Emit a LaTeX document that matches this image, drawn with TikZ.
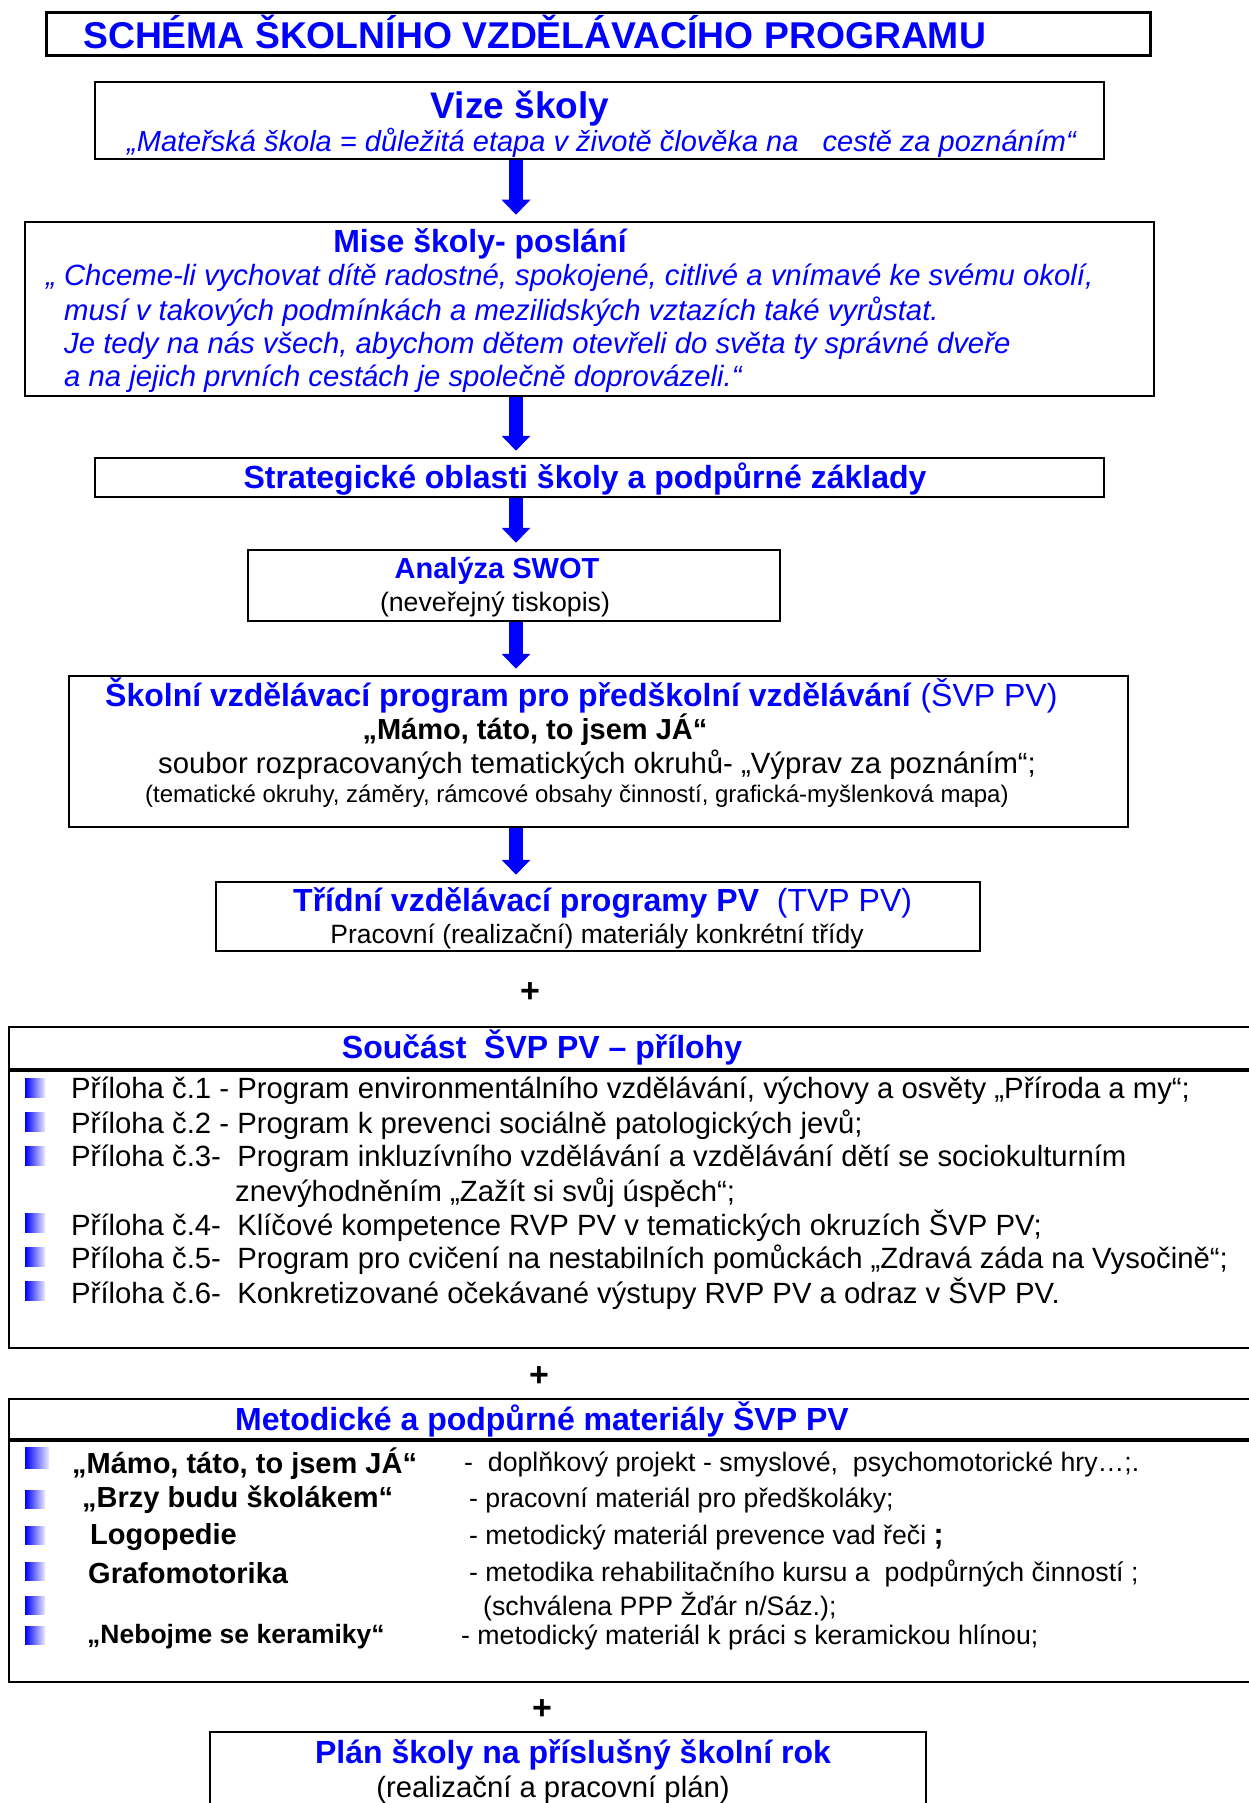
\documentclass[tikz,border=0pt]{standalone}
\usepackage{fontspec}
\setmainfont{Liberation Sans}
\usetikzlibrary{arrows.meta}
\newcommand{\pxfont}[1]{\fontsize{#1}{#1}\selectfont}
\tikzset{
    box/.style={draw, line width=2.5pt, inner sep=0pt},
    txt/.style={inner sep=0pt},
    head/.style={txt, text=svpblue, font=\bfseries\pxfont{32}},
    flowarrow/.style={draw=svpblue, line width=14pt, -{Triangle[width=28pt, length=15pt]}, shorten >=6pt},
    plus/.style={txt, font=\bfseries\pxfont{34}}
}
\begin{document}
\begin{tikzpicture}[x=1pt, y=-1pt]
        % --- CONFIGURATION ---
        \definecolor{svpblue}{RGB}{0, 0, 255}   % modrá nadpisů
        \useasboundingbox (0,0) rectangle (1248,1803);
        \coordinate (axis) at (516,0);

        % --- NADPIS ---
        \node[box, line width=3pt, minimum width=1104pt, minimum height=43pt] (title) at (598,34.5) {};
        \node[txt, anchor=west, text=svpblue, font=\bfseries\pxfont{37.3}] (titletxt) at (83,31.5) {SCHÉMA ŠKOLNÍHO VZDĚLÁVACÍHO PROGRAMU};

        % --- VIZE ---
        \node[box, minimum width=1009pt, minimum height=77pt] (vize) at (599.5,120.5) {};
        \node[head, font=\bfseries\pxfont{37}] (vizetxt) at (520,108.5) {Vize školy};
        \node[txt, anchor=west, text=svpblue, font=\itshape\pxfont{29}] (vizequote) at (127,143)
            {„Mateřská škola = důležitá etapa v životě člověka na \ \ cestě za poznáním“};

        % --- MISE ---
        \node[box, minimum width=1129pt, minimum height=174pt] (mise) at (589.5,309) {};
        \node[head] (misetxt) at (480,244) {Mise školy- poslání};
        \begin{scope}[every node/.style={txt, anchor=west, text=svpblue, font=\itshape\pxfont{29.3}}]
            \node (mise1) at (46,278) {„ Chceme-li vychovat dítě radostné, spokojené, citlivé a vnímavé ke svému okolí,};
            \node (mise2) at (64,312) {musí v takových podmínkách a mezilidských vztazích také vyrůstat.};
            \node (mise3) at (64,346) {Je tedy na nás všech, abychom dětem otevřeli do světa ty správné dveře};
            \node (mise4) at (64,379) {a na jejich prvních cestách je společně doprovázeli.“};
        \end{scope}

        % --- STRATEGIE ---
        \node[box, minimum width=1009pt, minimum height=39pt] (strat) at (599.5,477.5) {};
        \node[head] (strattxt) at (585,479) {Strategické oblasti školy a podpůrné základy};

        % --- SWOT ---
        \node[box, minimum width=532pt, minimum height=71pt] (swot) at (514,585.5) {};
        \node[head, font=\bfseries\pxfont{29}] (swottxt) at (497,571) {Analýza SWOT};
        \node[txt, font=\pxfont{26.7}] (swotsub) at (495,604) {(neveřejný tiskopis)};

        % --- SVP PV ---
        \node[box, minimum width=1059pt, minimum height=151pt] (svp) at (598.5,751.5) {};
        \node[txt, anchor=west, text=svpblue, font=\pxfont{32}] (svp1) at (105,696)
            {\textbf{Školní vzdělávací program pro předškolní vzdělávání} (ŠVP PV)};
        \node[txt, font=\bfseries\pxfont{29}] (svp2) at (535,730) {„Mámo, táto, to jsem JÁ“};
        \node[txt, anchor=west, font=\pxfont{29.3}] (svp3) at (158,765)
            {soubor rozpracovaných tematických okruhů- „Výprav za poznáním“;};
        \node[txt, anchor=west, font=\pxfont{24}] (svp4) at (145,796)
            {(tematické okruhy, záměry, rámcové obsahy činností, grafická-myšlenková mapa)};

        % --- TVP PV ---
        \node[box, minimum width=764pt, minimum height=69pt] (tvp) at (598,916.5) {};
        \node[txt, anchor=west, text=svpblue, font=\pxfont{32}] (tvp1) at (293,903)
            {\textbf{Třídní vzdělávací programy PV} \ (TVP PV)};
        \node[txt, font=\pxfont{26.5}] (tvp2) at (597,936) {Pracovní (realizační) materiály konkrétní třídy};

        % Šipky mezi bloky
        \draw[flowarrow] (vize.south -| axis) -- (mise.north -| axis);
        \draw[flowarrow] (mise.south -| axis) -- (strat.north -| axis);
        \draw[flowarrow] (strat.south -| axis) -- (swot.north -| axis);
        \draw[flowarrow] (swot.south -| axis) -- (svp.north -| axis);
        \draw[flowarrow] (svp.south -| axis) -- (tvp.north -| axis);

        \node[plus] (plus1) at (530,993) {+};

        % --- PRILOHY ---
        \node[box, minimum width=1251pt, minimum height=321pt] (prilohy) at (634.5,1187.5) {};
        \draw[line width=4pt] (9,1070) -- (1260,1070);
        \node[head] (prilohytxt) at (542,1047) {Součást \ ŠVP PV – přílohy};
        \foreach \y in {1088,1122,1156,1223,1257,1291}
            \shade[left color=svpblue, right color=svpblue!8] (25,\y-10) rectangle (45,\y+9);
        \begin{scope}[every node/.style={txt, anchor=west, font=\pxfont{29.3}}]
            \node (p1) at (71,1091) {Příloha č.1 - Program environmentálního vzdělávání, výchovy a osvěty „Příroda a my“;};
            \node (p2) at (71,1125) {Příloha č.2 - Program k prevenci sociálně patologických jevů;};
            \node (p3) at (71,1159) {Příloha č.3- \ Program inkluzívního vzdělávání a vzdělávání dětí se sociokulturním};
            \node (p3b) at (235,1193) {znevýhodněním „Zažít si svůj úspěch“;};
            \node (p4) at (71,1226) {Příloha č.4- \ Klíčové kompetence RVP PV v tematických okruzích ŠVP PV;};
            \node (p5) at (71,1260) {Příloha č.5- \ Program pro cvičení na nestabilních pomůckách „Zdravá záda na Vysočině“;};
            \node (p6) at (71,1294) {Příloha č.6- \ Konkretizované očekávané výstupy RVP PV a odraz v ŠVP PV.};
        \end{scope}

        \node[plus] (plus2) at (539,1377) {+};

        % --- METODICKE MATERIALY ---
        \node[box, minimum width=1251pt, minimum height=283pt] (metod) at (634.5,1540.5) {};
        \draw[line width=4pt] (9,1440) -- (1260,1440);
        \node[head] (metodtxt) at (542,1419) {Metodické a podpůrné materiály ŠVP PV};
        \shade[left color=svpblue, right color=svpblue!8] (25,1447) rectangle (49,1468);
        \foreach \y in {1499,1535,1571,1605,1635}
            \shade[left color=svpblue, right color=svpblue!8] (25,\y-9) rectangle (45,\y+9);
        \begin{scope}[every node/.style={txt, anchor=west, font=\bfseries\pxfont{29}}]
            \node (m1) at (72,1464) {„Mámo, táto, to jsem JÁ“};
            \node (m2) at (82,1500) {„Brzy budu školákem“};
            \node (m3) at (90,1537) {Logopedie};
            \node (m4) at (88,1573) {Grafomotorika};
            \node[font=\bfseries\pxfont{26.5}] (m6) at (87,1637) {„Nebojme se keramiky“};
        \end{scope}
        \begin{scope}[every node/.style={txt, anchor=west, font=\pxfont{26.7}}]
            \node (r1) at (464,1464) {- \ doplňkový projekt - smyslové, \ psychomotorické hry…;.};
            \node (r2) at (469,1500) {- pracovní materiál pro předškoláky;};
            \node (r3) at (469,1537) {- metodický materiál prevence vad řeči \textbf{\pxfont{30};}};
            \node (r4) at (469,1573) {- metodika rehabilitačního kursu a \ podpůrných činností ;};
            \node (r5) at (483,1607) {(schválena PPP Žďár n/Sáz.);};
            \node (r6) at (461,1637) {- metodický materiál k práci s keramickou hlínou;};
        \end{scope}

        \node[plus] (plus3) at (542,1710) {+};

        % --- PLAN SKOLY ---
        \node[box, minimum width=716pt, minimum height=90pt] (plan) at (568,1777) {};
        \node[head] (plantxt) at (573,1755) {Plán školy na příslušný školní rok};
        \node[txt, font=\pxfont{29.3}] (plansub) at (553,1790) {(realizační a pracovní plán)};

    \end{tikzpicture}
\end{document}
